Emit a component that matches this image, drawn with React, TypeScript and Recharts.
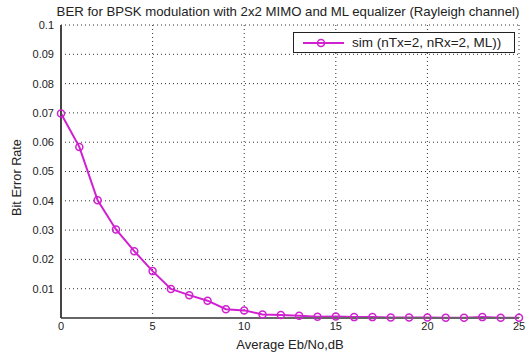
import React from 'react';
import { LineChart, Line, XAxis, YAxis, CartesianGrid, Legend } from 'recharts';

const ebNo = [0, 1, 2, 3, 4, 5, 6, 7, 8, 9, 10, 11, 12, 13, 14, 15, 16, 17, 18, 19, 20, 21, 22, 23, 24, 25];
const berSim = [
  0.0698, 0.0584, 0.0402, 0.0302, 0.0228, 0.016, 0.0099, 0.0078, 0.0059, 0.003,
  0.0026, 0.0012, 0.001, 0.0008, 0.0004, 0.0005, 0.0003, 0.0003, 0.0002, 0.0002,
  0.0002, 0.0001, 0.0001, 0.0003, 0.0001, 0.0001,
];
const xTicks = [0, 5, 10, 15, 20, 25];
const yTicks = [0.01, 0.02, 0.03, 0.04, 0.05, 0.06, 0.07, 0.08, 0.09, 0.1];

const chartTitle = 'BER for BPSK modulation with 2x2 MIMO and ML equalizer (Rayleigh channel)';
const seriesName = 'sim (nTx=2, nRx=2, ML))';
const xTitle = 'Average Eb/No,dB';
const yTitle = 'Bit Error Rate';

const data = ebNo.map((x, i) => ({ x, ber: berSim[i] }));

const MAGENTA = '#d020d0';
const FONT = '"Liberation Sans", Arial, sans-serif';

const legendBox = () => (
  <div
    style={{
      border: '1px solid #222',
      background: '#fff',
      width: 222,
      height: 21,
      display: 'flex',
      alignItems: 'center',
      fontFamily: FONT,
      fontSize: 13.5,
      color: '#222',
      boxSizing: 'border-box',
    }}
  >
    <svg width={58} height={18} style={{ flexShrink: 0 }}>
      <line x1={9} y1={9} x2={50} y2={9} stroke={MAGENTA} strokeWidth={2} />
      <circle cx={27} cy={9} r={3.5} stroke={MAGENTA} strokeWidth={1.5} fill="none" />
    </svg>
    <span style={{ whiteSpace: 'nowrap' }}>{seriesName}</span>
  </div>
);

// rotated y title, a bit below the plot centre like the matlab figure
const YTitle = (props: any) => {
  const vb = props.viewBox || { x: 0, y: 0, height: 0 };
  const x = vb.x + 17;
  const y = vb.y + vb.height / 2 + 6;
  return (
    <text x={x} y={y} transform={`rotate(-90 ${x} ${y})`} textAnchor="middle" dominantBaseline="central"
      style={{ fontSize: 12.7, fontFamily: FONT }} fill="#222">
      {yTitle}
    </text>
  );
};

export default function App() {
  return (
    <div style={{ position: 'fixed', top: 0, left: 0, width: 528, height: 354, overflow: 'hidden', background: '#fff' }}>
      <LineChart
        width={528}
        height={354}
        data={data}
        margin={{ top: 25, right: 9, bottom: 0, left: 0 }}
        style={{ fontFamily: FONT }}
      >
        <text x={288} y={16} textAnchor="middle" fill="#222" style={{ fontSize: 13.2, fontFamily: FONT }}>
          {chartTitle}
        </text>
        <CartesianGrid stroke="#333" strokeDasharray="1 3" />
        <XAxis
          dataKey="x"
          type="number"
          domain={[0, 25]}
          ticks={xTicks}
          height={36}
          tickLine={false}
          tickSize={2}
          tickMargin={2}
          axisLine={{ stroke: '#666', strokeWidth: 2 }}
          tick={{ fill: '#222', fontSize: 11 }}
          label={{ value: xTitle, position: 'insideBottom', offset: 5, fill: '#222', fontSize: 13 }}
        />
        <YAxis
          type="number"
          domain={[0, 0.1]}
          ticks={yTicks}
          width={61}
          tickLine={false}
          tickSize={2}
          tickMargin={5}
          axisLine={{ stroke: '#444', strokeWidth: 2 }}
          tick={{ fill: '#222', fontSize: 11 }}
          tickFormatter={(v: number) => String(v)}
          label={<YTitle />}
        />
        <Legend
          layout="horizontal"
          verticalAlign="middle"
          align="center"
          content={legendBox}
          wrapperStyle={{ position: 'absolute', top: 32, left: 293, width: 222 }}
        />
        <Line
          type="linear"
          dataKey="ber"
          name={seriesName}
          stroke={MAGENTA}
          strokeWidth={2}
          dot={{ r: 3.5, stroke: MAGENTA, strokeWidth: 1.5, fill: 'none' }}
          isAnimationActive={false}
        />
      </LineChart>
    </div>
  );
}
